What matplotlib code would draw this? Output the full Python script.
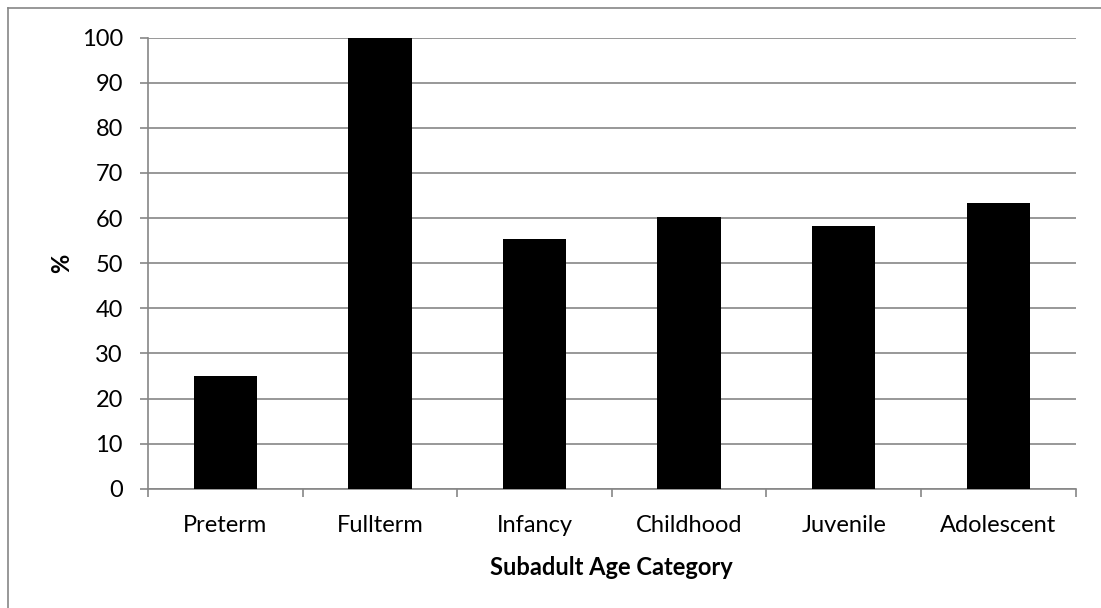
import numpy as np
import matplotlib.pyplot as plt
from matplotlib.lines import Line2D

categorias = ["Preterm", "Fullterm", "Infancy", "Childhood", "Juvenile", "Adolescent"]
percentuais = [25.0, 100.0, 55.4, 60.3, 58.3, 63.4]

plt.rcParams['font.family'] = ['Lato', 'DejaVu Sans']
cinza = '#868686'
fs = 17

fig = plt.figure(figsize=(11.01, 6.08), dpi=100)
ax = fig.add_axes([148/1101, 1 - 488.7/608, (1075.7 - 148)/1101, (488.7 - 37.7)/608])

x = np.arange(len(categorias))
ax.bar(x, percentuais, width=0.41, color='black', zorder=3)

ax.set_xlim(-0.5, len(categorias) - 0.5)
ax.set_ylim(0, 100)
ax.set_yticks(np.arange(0, 101, 10))
ax.yaxis.grid(True, color=cinza, linewidth=1.2, zorder=0)

ax.set_xticks(x)
ax.set_xticklabels(categorias)
ax.set_xticks(np.arange(-0.5, len(categorias), 1), minor=True)
ax.tick_params(axis='x', which='major', length=0, pad=19, labelsize=fs)
ax.tick_params(axis='x', which='minor', length=6, color=cinza, width=1.2)
ax.tick_params(axis='y', length=6, color=cinza, width=1.2, labelsize=fs, pad=12)

for lado in ['top', 'right']:
    ax.spines[lado].set_visible(False)
for lado in ['left', 'bottom']:
    ax.spines[lado].set_color(cinza)
    ax.spines[lado].set_linewidth(1.2)

ax.set_xlabel("Subadult Age Category", fontsize=fs, fontweight='bold', labelpad=14)
ax.set_ylabel("%", fontsize=fs, fontweight='bold', labelpad=6)

# moldura externa do grafico
fig.add_artist(Line2D([8/1101, 8/1101], [0, 1 - 8/608], color=cinza, linewidth=1.2))
fig.add_artist(Line2D([8/1101, 1], [1 - 8/608, 1 - 8/608], color=cinza, linewidth=1.2))

fig.savefig("out.png", dpi=100)
